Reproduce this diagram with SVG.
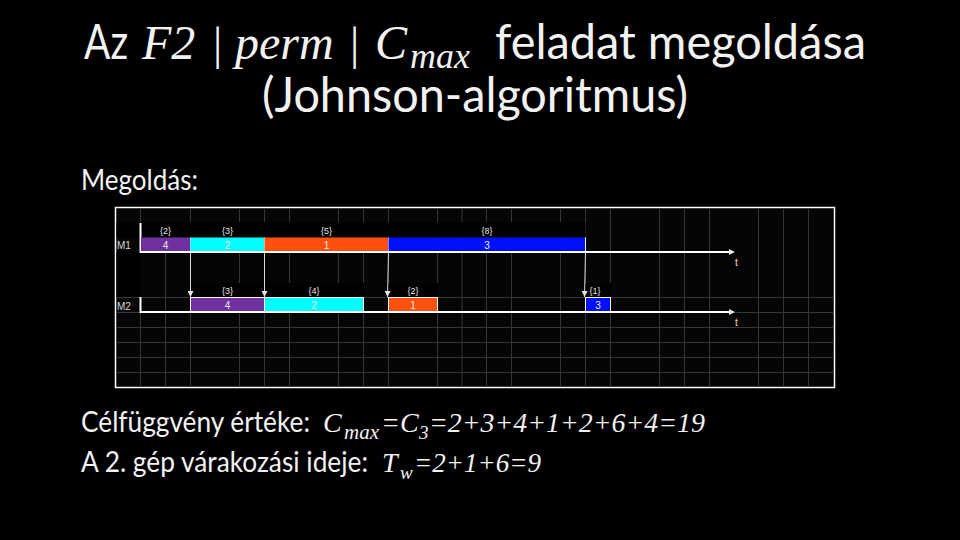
<svg xmlns="http://www.w3.org/2000/svg" width="960" height="540" viewBox="0 0 960 540">
<defs>
<style>
.sans{font-family:Lato,"Open Sans","Liberation Sans",sans-serif;fill:#f2f2f2}
.math{font-family:"Liberation Serif","DejaVu Serif",serif;font-style:italic;fill:#f2f2f2}
.up{font-family:"Liberation Serif","DejaVu Serif",serif;font-style:normal}
.small{font-family:"Liberation Sans","DejaVu Sans",sans-serif;font-size:9px;text-anchor:middle;fill:#e6e6e6}
.num{font-family:"Liberation Sans","DejaVu Sans",sans-serif;font-size:10px;text-anchor:middle;fill:#eeeeee}
.mlab{font-family:"Liberation Sans","DejaVu Sans",sans-serif;font-size:10px;fill:#d8d8d8}
.tlab{font-family:"Liberation Sans","DejaVu Sans",sans-serif;font-size:10px;fill:#ffd8b0}
.grid line{stroke:#363636;stroke-width:1}
.axis{stroke:#ffffff;stroke-width:2;fill:none}
.conn{stroke:#d8d8d8;stroke-width:1;fill:none}
.bar2{stroke:#ffffff;stroke-width:1}
</style>
<marker id="ah" viewBox="0 0 6 6" refX="6" refY="3" markerWidth="6" markerHeight="6" markerUnits="userSpaceOnUse" orient="auto"><path d="M0,0 L6,3 L0,6 Z" fill="#e6e6e6"/></marker>
<marker id="axh" viewBox="0 0 6 6" refX="1" refY="3" markerWidth="6" markerHeight="6" markerUnits="userSpaceOnUse" orient="auto"><path d="M0,0 L6,3 L0,6 Z" fill="#e6e6e6"/></marker>
</defs>
<rect x="0" y="0" width="960" height="540" fill="#000000"/>

<g id="title">
<text class="sans" x="84" y="59" font-size="48" textLength="44" lengthAdjust="spacingAndGlyphs">Az</text>
<text class="math" x="142" y="59" font-size="48"><tspan>F2</tspan><tspan class="up" x="213" font-size="46">|</tspan><tspan x="235">perm</tspan><tspan class="up" x="350" font-size="46">|</tspan><tspan x="375">C</tspan><tspan x="410" dy="9" font-size="36">max</tspan></text>
<text class="sans" x="495" y="59" font-size="48" textLength="371" lengthAdjust="spacingAndGlyphs">feladat megoldása</text>
<text class="sans" x="262" y="112" font-size="48" textLength="426" lengthAdjust="spacingAndGlyphs">(Johnson-algoritmus)</text>
</g>

<g id="subtitle">
<text class="sans" x="81" y="190" font-size="28" textLength="117" lengthAdjust="spacingAndGlyphs">Megoldás:</text>
</g>

<g id="chart">
<rect x="115.5" y="207.5" width="719" height="180" fill="#050505" stroke="#ffffff" stroke-width="1.5"/>
<g class="grid">
<line x1="140.5" y1="208" x2="140.5" y2="222"/>
<line x1="140.5" y1="312" x2="140.5" y2="387"/>
<line x1="165.5" y1="222" x2="165.5" y2="387"/>
<line x1="190.5" y1="208" x2="190.5" y2="387"/>
<line x1="239.5" y1="208" x2="239.5" y2="387"/>
<line x1="264.5" y1="208" x2="264.5" y2="387"/>
<line x1="289.5" y1="208" x2="289.5" y2="387"/>
<line x1="338.5" y1="208" x2="338.5" y2="387"/>
<line x1="363.5" y1="208" x2="363.5" y2="387"/>
<line x1="388.5" y1="208" x2="388.5" y2="387"/>
<line x1="437.5" y1="208" x2="437.5" y2="387"/>
<line x1="462" y1="208" x2="462" y2="387"/>
<line x1="486.5" y1="208" x2="486.5" y2="387"/>
<line x1="511.5" y1="208" x2="511.5" y2="387"/>
<line x1="560.5" y1="208" x2="560.5" y2="387"/>
<line x1="585.5" y1="208" x2="585.5" y2="387"/>
<line x1="610.5" y1="208" x2="610.5" y2="387"/>
<line x1="659.5" y1="208" x2="659.5" y2="387"/>
<line x1="684.5" y1="208" x2="684.5" y2="387"/>
<line x1="709.5" y1="208" x2="709.5" y2="387"/>
<line x1="758.5" y1="208" x2="758.5" y2="387"/>
<line x1="783.5" y1="208" x2="783.5" y2="387"/>
<line x1="808.5" y1="208" x2="808.5" y2="387"/>
<line x1="116" y1="297.5" x2="834" y2="297.5"/>
<line x1="116" y1="312.5" x2="834" y2="312.5"/>
<line x1="116" y1="327.5" x2="834" y2="327.5"/>
<line x1="116" y1="342.5" x2="834" y2="342.5"/>
<line x1="116" y1="357.5" x2="834" y2="357.5"/>
<line x1="116" y1="372.5" x2="834" y2="372.5"/>
</g>
<rect x="116.5" y="222" width="469" height="15.5" fill="#000000"/>
<rect x="116.5" y="252" width="24" height="45" fill="#000000"/>
<rect x="190" y="283" width="174" height="14" fill="#000000"/>
<rect x="388" y="283" width="50" height="14" fill="#000000"/>
<rect x="585" y="283" width="26" height="14" fill="#000000"/>

<text class="mlab" x="117" y="249">M1</text>
<text class="mlab" x="117" y="310">M2</text>

<path class="axis" d="M140.5,223 V252 H730" marker-end="url(#axh)"/>
<path class="axis" d="M140.5,297 V312 H730" marker-end="url(#axh)"/>
<text class="tlab" x="735" y="266">t</text>
<text class="tlab" x="735" y="326">t</text>
</g>

<g id="m1-job4">
<rect x="141" y="237.5" width="49.5" height="13.5" fill="#7030a0"/>
<line x1="190.5" y1="237.5" x2="190.5" y2="251" stroke="#cccccc" stroke-width="1"/>
<text class="small" x="165.5" y="234">{2}</text>
<text class="num" x="165.5" y="248.5">4</text>
</g>
<g id="m1-job2">
<rect x="190.5" y="237.5" width="74" height="13.5" fill="#00ffff"/>
<line x1="264.5" y1="237.5" x2="264.5" y2="251" stroke="#ffffff" stroke-width="1"/>
<text class="small" x="227.5" y="234">{3}</text>
<text class="num" x="227.5" y="248.5">2</text>
</g>
<g id="m1-job1">
<rect x="264.5" y="237.5" width="124" height="13.5" fill="#ff5010"/>
<line x1="388.5" y1="237.5" x2="388.5" y2="251" stroke="#ffffff" stroke-width="1"/>
<text class="small" x="326.5" y="234">{5}</text>
<text class="num" x="326.5" y="248.5">1</text>
</g>
<g id="m1-job3">
<rect x="388.5" y="237.5" width="197" height="13.5" fill="#0010ff"/>
<line x1="585.5" y1="237.5" x2="585.5" y2="251" stroke="#ffffff" stroke-width="1"/>
<text class="small" x="487" y="234">{8}</text>
<text class="num" x="487" y="248.5">3</text>
</g>

<g id="m2-job4">
<rect class="bar2" x="190.5" y="297.5" width="74" height="14" fill="#7030a0"/>
<text class="small" x="227.5" y="294">{3}</text>
<text class="num" x="227.5" y="309">4</text>
</g>
<g id="m2-job2">
<rect class="bar2" x="264.5" y="297.5" width="99" height="14" fill="#00ffff"/>
<text class="small" x="314" y="294">{4}</text>
<text class="num" x="314" y="309">2</text>
</g>
<g id="m2-job1">
<rect class="bar2" x="388.5" y="297.5" width="49" height="14" fill="#ff5010"/>
<text class="small" x="413" y="294">{2}</text>
<text class="num" x="413" y="309">1</text>
</g>
<g id="m2-job3">
<rect class="bar2" x="585.5" y="297.5" width="25" height="14" fill="#0010ff"/>
<text class="small" x="595" y="294">{1}</text>
<text class="num" x="598" y="309">3</text>
</g>

<g id="connectors">
<line class="conn" x1="190.5" y1="252" x2="190.5" y2="297" marker-end="url(#ah)"/>
<line class="conn" x1="264.5" y1="252" x2="264.5" y2="297" marker-end="url(#ah)"/>
<line class="conn" x1="388.5" y1="252" x2="387.5" y2="297" marker-end="url(#ah)"/>
<line class="conn" x1="585.5" y1="252" x2="584.5" y2="297" marker-end="url(#ah)"/>
</g>

<g id="results">
<text class="sans" x="81" y="432" font-size="28" textLength="229" lengthAdjust="spacingAndGlyphs">Célfüggvény értéke:</text>
<text class="math" x="323" y="432" font-size="28"><tspan>C</tspan><tspan x="344" dy="7" font-size="21">max</tspan><tspan x="381" dy="-7">=C</tspan><tspan x="419" dy="7" font-size="19">3</tspan><tspan x="429" dy="-7" textLength="276" lengthAdjust="spacingAndGlyphs">=2+3+4+1+2+6+4=19</tspan></text>
<text class="sans" x="81" y="472" font-size="28" textLength="287" lengthAdjust="spacingAndGlyphs">A 2. gép várakozási ideje:</text>
<text class="math" x="382" y="472" font-size="28"><tspan>T</tspan><tspan x="400" dy="7" font-size="19">w</tspan><tspan x="414" dy="-7" textLength="127" lengthAdjust="spacingAndGlyphs">=2+1+6=9</tspan></text>
</g>
</svg>
